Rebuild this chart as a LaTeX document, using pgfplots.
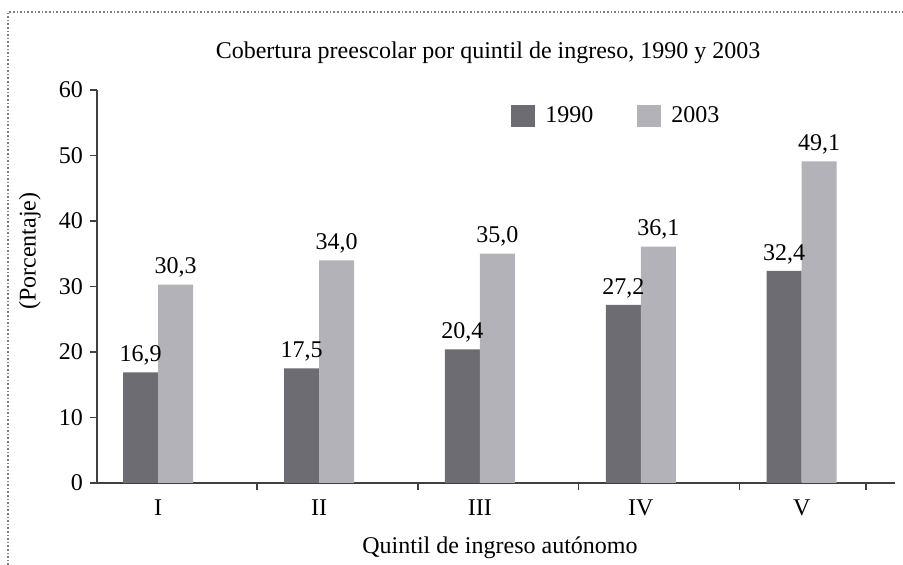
\documentclass[border=0pt]{standalone}
\usepackage{pgfplots}
\pgfplotsset{compat=1.18}
\usepackage{fontspec}
\setmainfont{Liberation Serif}
\definecolor{cA}{RGB}{108,108,114}
\definecolor{cB}{RGB}{178,178,184}
\begin{document}
\begin{tikzpicture}[x=1pt,y=1pt]
\useasboundingbox (0,0) rectangle (451.5,282.5);
\draw[gray, densely dotted, line width=0.8pt] (4,0) -- (4,276.5) -- (451.5,276.5);
\begin{axis}[
    at={(48.5pt,41pt)}, anchor=south west,
    scale only axis, width=399pt, height=196.5pt,
    ybar=0pt, bar width=17.5pt,
    xmin=-0.38, xmax=4.58,
    ymin=0, ymax=60,
    ytick={0,10,...,60},
    xtick={0.615,1.615,2.615,3.615,4.4},
    xticklabels=\empty,
    extra x ticks={0,1,2,3,4},
    extra x tick labels={I,II,III,IV,V},
    extra x tick style={major tick length=0pt, xticklabel style={yshift=-5pt}},
    axis x line=bottom, axis y line=left,
    axis line style={-, black!75, line width=0.6pt},
    tick style={black!75, line width=0.6pt},
    tick align=outside, major tick length=3.5pt,
    font=\fontsize{12}{14}\selectfont,
    /pgf/number format/assume math mode=true,
    title={Cobertura preescolar por quintil de ingreso, 1990 y 2003},
    title style={at={(axis description cs:0.49,1.063)}, anchor=center},
    xlabel={Quintil de ingreso autónomo},
    xlabel style={at={(axis description cs:0.505,-0.165)}, anchor=center},
    ylabel={(Porcentaje)},
    ylabel style={at={(axis description cs:-0.084,0.59)}, anchor=center},
    nodes near coords,
    nodes near coords style={black, font=\fontsize{12}{14}\selectfont,
        /pgf/number format/.cd, use comma, fixed, fixed zerofill, precision=1},
    legend style={at={(axis description cs:0.652,0.934)}, anchor=center, draw=none,
        font=\fontsize{12}{14}\selectfont,
        /tikz/every even column/.append style={column sep=20pt}},
    legend columns=2,
    legend image code/.code={\fill[#1] (0pt,-5.5pt) rectangle (12pt,5.5pt);},
]
\addplot[fill=cA, draw=none] coordinates {(0,16.9) (1,17.5) (2,20.4) (3,27.2) (4,32.4)};
\addplot[fill=cB, draw=none] coordinates {(0,30.3) (1,34.0) (2,35.0) (3,36.1) (4,49.1)};
\legend{\hspace{3pt}1990,\hspace{3pt}2003}
\end{axis}
\end{tikzpicture}
\end{document}
